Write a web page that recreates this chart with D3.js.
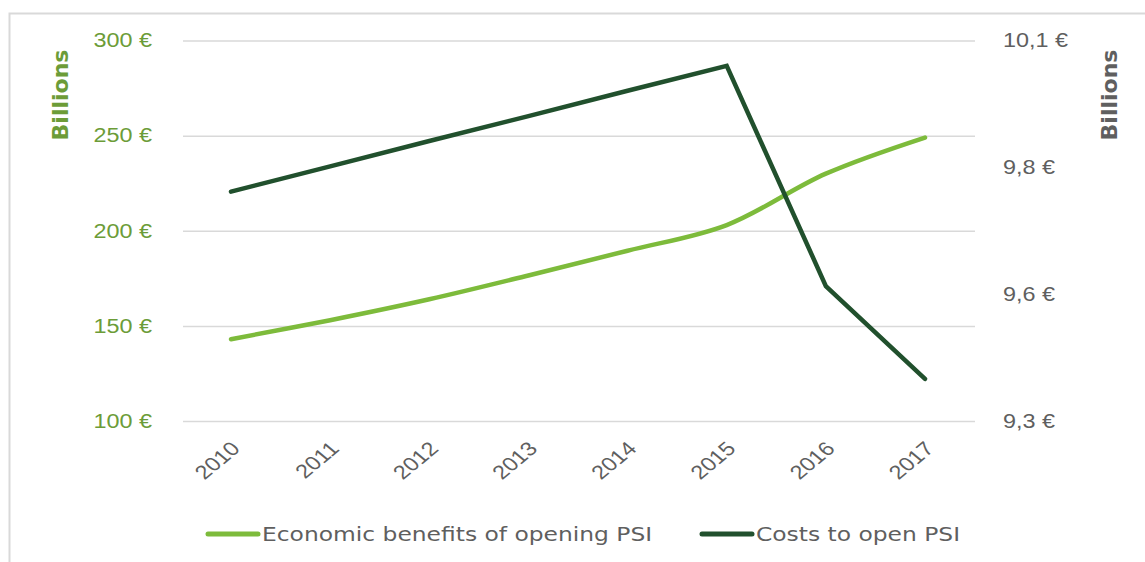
<!DOCTYPE html>
<html><head><meta charset="utf-8">
<script src="https://cdn.jsdelivr.net/npm/d3@7"></script>
<style>
html,body{margin:0;padding:0;background:#fff;}
svg{display:block;font-family:"DejaVu Sans",Verdana,sans-serif;}
</style></head>
<body><svg id="c" width="1145" height="562"></svg>
<script>
const years = ["2010","2011","2012","2013","2014","2015","2016","2017"];
const benefits = [143, 153, 164, 176.5, 189.5, 203, 230, 249];
const costs = [9.752, 9.802, 9.852, 9.901, 9.951, 10.0, 9.566, 9.383];
const leftTicks = [100, 150, 200, 250, 300];
const leftTickLabels = ["100 €", "150 €", "200 €", "250 €", "300 €"];
const rightTicks = [9.3, 9.55, 9.8, 10.05];
const rightTickLabels = ["9,3 €", "9,6 €", "9,8 €", "10,1 €"];
const seriesNames = ["Economic benefits of opening PSI", "Costs to open PSI"];
const axisTitle = "Billions";

const LIGHT = "#7dbb3b", DARK = "#21502d", LGREEN = "#6c9c38", GRAY = "#5f5f5f";
const SX = 1.2; // horizontal text stretch
const svg = d3.select("#c");

// outer frame
svg.append("rect").attr("x", 9.5).attr("y", 13.5).attr("width", 1160).attr("height", 600)
  .attr("fill", "none").attr("stroke", "#d9d9d9").attr("stroke-width", 2);

const plotL = 183, plotR = 975, plotT = 40.5, plotB = 421;
const x = d3.scalePoint().domain(years).range([231, 925]);
const yL = d3.scaleLinear().domain([100, 300]).range([plotB, plotT]);
const yR = d3.scaleLinear().domain([9.3, 10.05]).range([plotB, plotT]);

// left axis with gridlines
const gL = svg.append("g").attr("transform", `translate(${plotL},0)`)
  .call(d3.axisLeft(yL).tickValues(leftTicks).tickFormat((d, i) => leftTickLabels[i])
    .tickSizeInner(-(plotR - plotL)).tickSizeOuter(0).tickPadding(31));
gL.select(".domain").remove();
gL.selectAll(".tick line").attr("stroke", "#d9d9d9").attr("stroke-width", 1.5);
gL.selectAll(".tick text").attr("fill", LGREEN).attr("font-size", 19.5)
  .attr("x", -31 / SX).attr("transform", `scale(${SX},1)`);

// right axis
const gR = svg.append("g").attr("transform", `translate(${plotR},0)`)
  .call(d3.axisRight(yR).tickValues(rightTicks).tickFormat((d, i) => rightTickLabels[i])
    .tickSize(0).tickPadding(28));
gR.select(".domain").remove();
gR.selectAll(".tick text").attr("fill", GRAY).attr("font-size", 19.5)
  .attr("x", 28 / SX).attr("transform", `scale(${SX},1)`);

// x axis
const gX = svg.append("g").attr("transform", `translate(0,${plotB})`)
  .call(d3.axisBottom(x).tickSize(0));
gX.select(".domain").remove();
gX.selectAll(".tick text").attr("fill", GRAY).attr("font-size", 19.5)
  .attr("text-anchor", "end").attr("x", 0).attr("y", 0).attr("dy", "0.35em")
  .attr("transform", `translate(4,24) scale(${SX},1) rotate(-45)`);

// axis titles
svg.append("text").attr("transform", `translate(68,95) rotate(-90)`)
  .attr("text-anchor", "middle").attr("fill", LGREEN).attr("font-size", 22).attr("font-weight", 600)
  .text(axisTitle);
svg.append("text").attr("transform", `translate(1117,95) rotate(-90)`)
  .attr("text-anchor", "middle").attr("fill", GRAY).attr("font-size", 22).attr("font-weight", 600)
  .text(axisTitle);

// lines
const lineB = d3.line().x((d, i) => x(years[i])).y(d => yL(d)).curve(d3.curveCatmullRom.alpha(0.5));
const lineC = d3.line().x((d, i) => x(years[i])).y(d => yR(d));
svg.append("path").datum(benefits).attr("d", lineB).attr("fill", "none")
  .attr("stroke", LIGHT).attr("stroke-width", 4.5).attr("stroke-linecap", "round").attr("stroke-linejoin", "round");
svg.append("path").datum(costs).attr("d", lineC).attr("fill", "none")
  .attr("stroke", DARK).attr("stroke-width", 4.5).attr("stroke-linecap", "round").attr("stroke-linejoin", "miter");

// legend
const legend = [{name: seriesNames[0], color: LIGHT, x: 208}, {name: seriesNames[1], color: DARK, x: 702}];
const lg = svg.selectAll(".lg").data(legend).join("g").attr("class", "lg")
  .attr("transform", d => `translate(${d.x},534)`);
lg.append("line").attr("x1", 0).attr("x2", 50).attr("y1", 0).attr("y2", 0)
  .attr("stroke", d => d.color).attr("stroke-width", 5).attr("stroke-linecap", "round");
lg.append("text").attr("x", 54 / SX).attr("dy", "0.35em").attr("transform", `scale(${SX},1)`)
  .attr("fill", GRAY).attr("font-size", 19.5).text(d => d.name);
</script></body></html>
